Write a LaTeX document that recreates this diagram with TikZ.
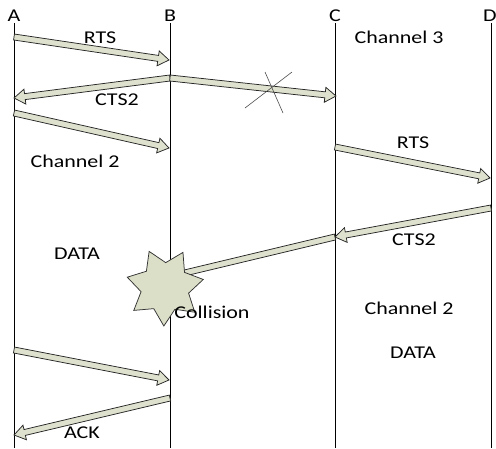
\documentclass[tikz,border=0pt]{standalone}
\usepackage{fontspec}
\setmainfont[FakeStretch=1.22]{Carlito}
\usetikzlibrary{calc,shapes.geometric}
\definecolor{msgfill}{RGB}{222,225,205}
\definecolor{starfill}{RGB}{220,223,200}

% hollow block arrow from #1 to #2 (tip at #2)
\newcommand\msgarrow[2]{%
  \coordinate (hb) at ($(#2)!11pt!(#1)$);
  \filldraw[msg] ($(#1)!3pt!90:(#2)$) -- ($(hb)!3pt!-90:(#1)$)
    -- ($(hb)!7.5pt!-90:(#1)$) -- (#2) -- ($(hb)!7.5pt!90:(#1)$)
    -- ($(hb)!3pt!90:(#1)$) -- ($(#1)!3pt!-90:(#2)$) -- cycle;}

\begin{document}
\begin{tikzpicture}[x=1pt,y=-1pt,
  lbl/.style={font=\fontsize{18}{21}\selectfont, inner sep=0pt},
  lifeline/.style={line width=0.9pt},
  msg/.style={fill=msgfill, draw=black!85, line width=0.75pt, line join=miter},
  cross/.style={draw=black!70, line width=0.6pt}]
\useasboundingbox (0,0) rectangle (496,448);

% lifelines
\node[lbl] (lA) at (14,16) {A};
\node[lbl] (lB) at (170,16) {B};
\node[lbl] (lC) at (335,16) {C};
\node[lbl] (lD) at (490,16) {D};
\coordinate (Abot) at (14,448);
\coordinate (Bbot) at (170,448);
\coordinate (Cbot) at (335,448);
\coordinate (Dbot) at (491,448);
\draw[lifeline] (14,23) -- (Abot);
\draw[lifeline] (170,23) -- (Bbot);
\draw[lifeline] (335,23) -- (Cbot);
\draw[lifeline] (491,23) -- (Dbot);

% message end points
\coordinate (a1) at (14,37);   \coordinate (b1) at (169,60);
\coordinate (b2) at (170,78);  \coordinate (a2) at (14,98);
\coordinate (c1) at (336,96);
\coordinate (a3) at (14,113);  \coordinate (b3) at (169,148);
\coordinate (c2) at (335,147); \coordinate (d1) at (490,178);
\coordinate (d2) at (491,208); \coordinate (c3) at (335,237);
\coordinate (hit) at (172,276);
\coordinate (a4) at (14,350);  \coordinate (b4) at (169,380);
\coordinate (b5) at (170,398); \coordinate (a5) at (14,435);

\msgarrow{a1}{b1}
\msgarrow{b2}{a2}
\msgarrow{b2}{c1}
\msgarrow{a3}{b3}
\msgarrow{c2}{d1}
\msgarrow{d2}{c3}
\msgarrow{c3}{hit}
\msgarrow{a4}{b4}
\msgarrow{b5}{a5}

% lost message mark
\draw[cross] (245,108) -- (292,72);
\draw[cross] (265,72) -- (283,113);

% collision burst
\node[star, star points=7, star point ratio=1.6, minimum size=78pt,
      inner sep=0pt, fill=starfill, draw=black!80, line width=0.75pt,
      rotate=24] (boom) at (165,287) {};

% labels
\node[lbl] (t1) at (100,37.5) {RTS};
\node[lbl] (t2) at (117,100) {CTS2};
\node[lbl] (t3) at (75,161) {Channel 2};
\node[lbl] (t4) at (77,254) {DATA};
\node[lbl] (t5) at (399,37.5) {Channel 3};
\node[lbl] (t6) at (413,143) {RTS};
\node[lbl] (t7) at (414,240) {CTS2};
\node[lbl] (t8) at (212,312) {Collision};
\node[lbl] (t9) at (409,308) {Channel 2};
\node[lbl] (t10) at (413,353) {DATA};
\node[lbl] (t11) at (82,433) {ACK};
\end{tikzpicture}
\end{document}
